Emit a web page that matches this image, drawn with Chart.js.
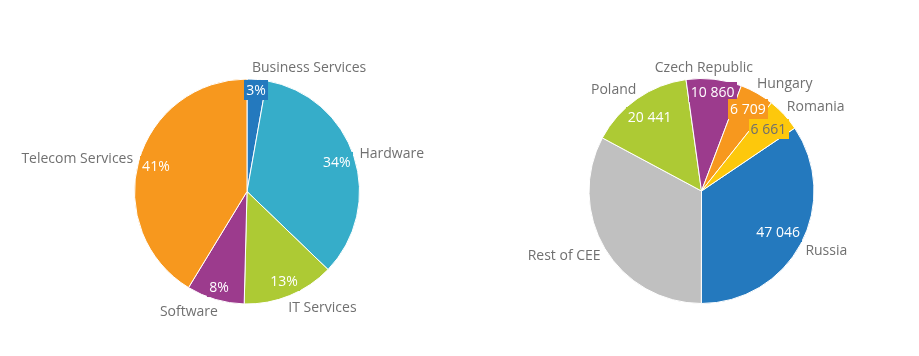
<!DOCTYPE html>
<html><head><meta charset="utf-8">
<script src="https://cdn.jsdelivr.net/npm/chart.js@4.4.1/dist/chart.umd.min.js"></script>
<style>
html,body{margin:0;padding:0;background:#fff;}
#wrap{position:relative;width:919px;height:356px;overflow:hidden;}
canvas{position:absolute;top:0;}
</style></head><body>
<div id="wrap">
<canvas id="left" style="left:0px" width="460" height="356"></canvas>
<canvas id="right" style="left:459px" width="460" height="356"></canvas>
</div>
<script>
// ---- data: left pie (share of sector, %) ----
const sectorLabels = ['Business Services', 'Hardware', 'IT Services', 'Software', 'Telecom Services'];
const sectorValues = [2.8, 34.4, 13.2, 8.3, 41.3];
const sectorColors = ['#2479be', '#36adc9', '#adca34', '#9c3b8d', '#f7981e'];

// ---- data: right pie (by country) ----
const countryLabels = ['Russia', 'Rest of CEE', 'Poland', 'Czech Republic', 'Hungary', 'Romania'];
const countryValues = [47046, 44760, 20441, 10860, 6709, 6661];
const countryShowValue = [true, false, true, true, true, true];
const countryColors = ['#2479be', '#c0c0c0', '#adca34', '#9c3b8d', '#f7981e', '#fdc80c'];

const FONT = '14px "Open Sans"';
const OUT_COLOR = '#707070';

function luminance(hex) {
  const n = parseInt(hex.slice(1), 16);
  const c = [(n >> 16) & 255, (n >> 8) & 255, n & 255].map(v => {
    v /= 255; return v <= 0.03928 ? v / 12.92 : Math.pow((v + 0.055) / 1.055, 2.4);
  });
  return 0.2126 * c[0] + 0.7152 * c[1] + 0.0722 * c[2];
}

const pieLabels = {
  id: 'pieLabels',
  afterDatasetsDraw(chart, args, opts) {
    const ctx = chart.ctx;
    const meta = chart.getDatasetMeta(0);
    const ds = chart.data.datasets[0];
    ctx.save();
    ctx.font = FONT;
    ctx.textBaseline = 'middle';
    const outs = [];
    meta.data.forEach((arc, i) => {
      const p = arc.getProps(['x', 'y', 'startAngle', 'endAngle', 'outerRadius'], true);
      const mid = (p.startAngle + p.endAngle) / 2;
      const R = p.outerRadius + 12;
      const ax = p.x + Math.cos(mid) * R, ay = p.y + Math.sin(mid) * R;
      const right = Math.cos(mid) >= 0;
      const text = chart.data.labels[i];
      const w = ctx.measureText(text).width;
      outs.push({ text, w, y: ay, right, left: right ? ax - 6 : ax + 6 - w });

      // inside value label
      const val = opts.format(ds.data[i], i);
      if (val === null) return;
      const tw = ctx.measureText(val).width;
      const pad = 2;
      const hw = tw / 2 + pad, hh = 8 + pad;
      const e = Math.abs(Math.cos(mid)) * hw + Math.abs(Math.sin(mid)) * hh;
      const rin = p.outerRadius - e;
      const cx = p.x + Math.cos(mid) * rin, cy = p.y + Math.sin(mid) * rin;
      const bg = ds.backgroundColor[i];
      ctx.fillStyle = bg;
      ctx.fillRect(Math.round(cx - hw), Math.round(cy - hh), Math.round(hw * 2), Math.round(hh * 2));
      ctx.fillStyle = luminance(bg) > 0.58 ? '#6e6e6e' : '#ffffff';
      ctx.textAlign = 'center';
      ctx.fillText(val, cx, cy + 1);
    });
    // simple horizontal collision avoidance for outside labels
    [true, false].forEach(side => {
      const list = outs.filter(o => o.right === side).sort((a, b) => a.y - b.y);
      for (let k = 0; k < list.length - 1; k++) {
        const a = list[k], b = list[k + 1];
        if (b.y - a.y < 17 && a.left < b.left + b.w && a.left + a.w > b.left) {
          if (side) a.left = b.left - 4 - a.w; else a.left = b.left + b.w + 4;
        }
      }
    });
    ctx.fillStyle = OUT_COLOR;
    ctx.textAlign = 'left';
    outs.forEach(o => ctx.fillText(o.text, o.left, o.y + 1));
    ctx.restore();
  }
};

function makePie(id, labels, values, colors, padding, format) {
  return new Chart(document.getElementById(id), {
    type: 'pie',
    data: {
      labels: labels,
      datasets: [{ data: values, backgroundColor: colors, borderColor: '#ffffff', borderWidth: 1, hoverOffset: 0 }]
    },
    options: {
      responsive: false,
      animation: false,
      radius: 112.5,
      rotation: 0,
      layout: { padding: padding },
      plugins: { legend: { display: false }, tooltip: { enabled: false }, pieLabels: { format } },
      events: []
    },
    plugins: [pieLabels]
  });
}

function fmtThousands(v) { return String(v).replace(/\B(?=(\d{3})+(?!\d))/g, '\u2009').replace(/\u2009/g, ' '); }

const leftChart = makePie('left', sectorLabels, sectorValues, sectorColors,
  { left: 34, right: 0, top: 27, bottom: 0 }, v => Math.round(v) + '%');
const rightChart = makePie('right', countryLabels, countryValues, countryColors,
  { left: 25, right: 0, top: 26, bottom: 0 }, (v, i) => countryShowValue[i] ? fmtThousands(v) : null);
rightChart.options.rotation = 56;
rightChart.update();
</script>
</body></html>
